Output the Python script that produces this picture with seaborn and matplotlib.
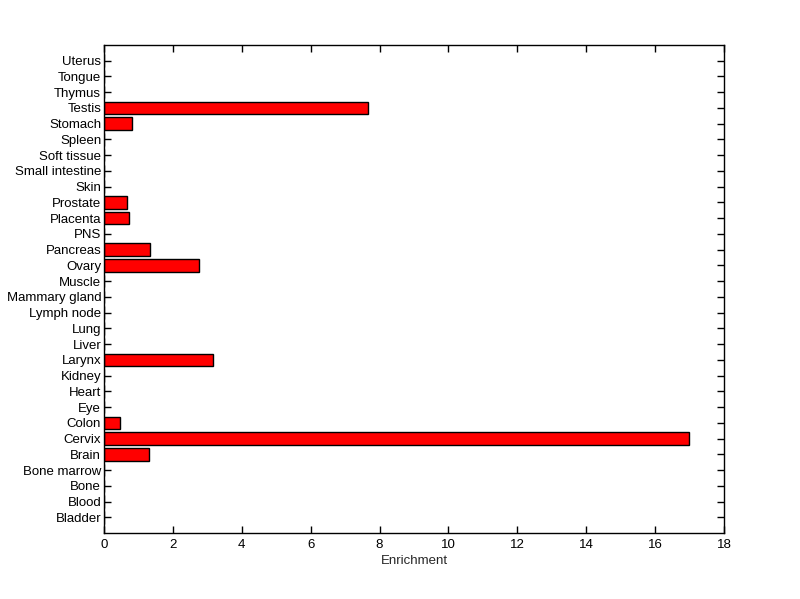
import numpy as np
import matplotlib
matplotlib.use('Agg')
import matplotlib.pyplot as plt
import pandas as pd
import seaborn as sns

# tissues listed top to bottom as in the figure
tissues = ['Uterus', 'Tongue', 'Thymus', 'Testis', 'Stomach', 'Spleen',
           'Soft tissue', 'Small intestine', 'Skin', 'Prostate', 'Placenta',
           'PNS', 'Pancreas', 'Ovary', 'Muscle', 'Mammary gland', 'Lymph node',
           'Lung', 'Liver', 'Larynx', 'Kidney', 'Heart', 'Eye', 'Colon',
           'Cervix', 'Brain', 'Bone marrow', 'Bone', 'Blood', 'Bladder']
enrichment = [0, 0, 0, 7.67, 0.80, 0, 0, 0, 0, 0.66, 0.74,
              0, 1.33, 2.75, 0, 0, 0, 0, 0, 3.17, 0, 0, 0, 0.47,
              16.97, 1.30, 0, 0, 0, 0]
xticks = [0, 2, 4, 6, 8, 10, 12, 14, 16, 18]

df = pd.DataFrame({'tissue': tissues, 'enrichment': enrichment})

sns.set_style('white')
plt.rcParams['font.family'] = ['Liberation Sans', 'DejaVu Sans']

fig = plt.figure(figsize=(8, 5.99), dpi=100)
ax = fig.add_axes([0.13, 0.11, 0.775, 0.815])

sns.barplot(data=df, x='enrichment', y='tissue', order=tissues, orient='h',
            color='#ff0000', saturation=1, edgecolor='black', linewidth=1,
            width=0.8, ax=ax)

ax.set_xlim(0, 18)
ax.set_ylim(len(tissues), -1)
ax.set_xticks(xticks)
ax.set_xticklabels([str(t) for t in xticks])
ax.set_xlabel('Enrichment', fontsize=9.5, labelpad=3)
ax.set_ylabel('')
ax.tick_params(direction='in', length=5, width=1, colors='black', labelsize=9.5,
               top=True, right=True, bottom=True, left=True)
ax.tick_params(axis='y', pad=2)
ax.tick_params(axis='x', pad=4)
for s in ax.spines.values():
    s.set_visible(True)
    s.set_color('black')
    s.set_linewidth(1)

fig.savefig('out.png', dpi=100)
